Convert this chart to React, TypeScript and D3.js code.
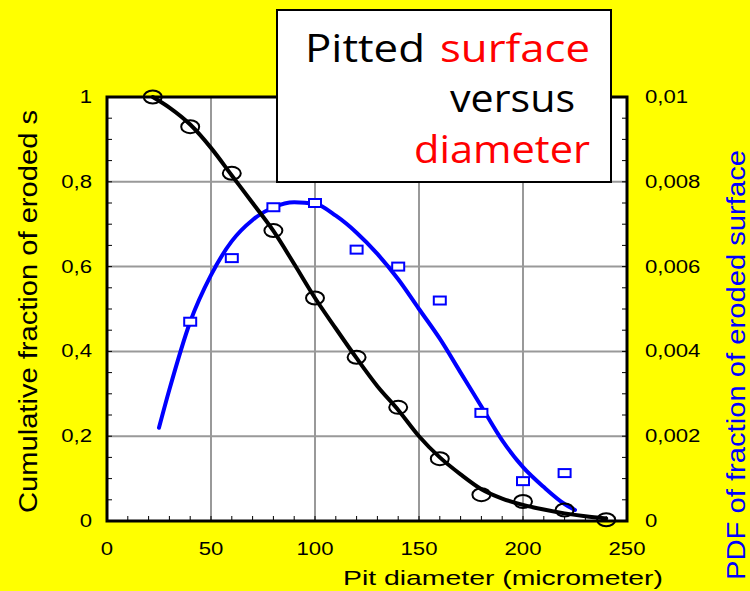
import React, { useEffect, useRef } from 'react';
import * as d3 from 'd3';

// measured points, cumulative fraction (left axis)
const cumX = [22, 40, 60, 80, 100, 120, 140, 160, 180, 200, 220, 240];
const cumY = [1.0, 0.93, 0.82, 0.685, 0.526, 0.386, 0.268, 0.147, 0.062, 0.046, 0.026, 0.003];

// fitted cumulative curve
const cumFitX = [22, 30, 40, 50, 60, 70, 80, 90, 100, 110, 120, 130, 140, 150, 160, 170, 180, 190, 200, 210, 220, 230, 240];
const cumFitY = [1.0, 0.975, 0.935, 0.88, 0.815, 0.75, 0.684, 0.606, 0.526, 0.454, 0.384, 0.318, 0.262, 0.2, 0.15, 0.11, 0.075, 0.053, 0.038, 0.027, 0.018, 0.011, 0.006];

// measured PDF points (right axis)
const pdfX = [40, 60, 80, 100, 120, 140, 160, 180, 200, 220];
const pdfY = [0.0047, 0.0062, 0.0074, 0.0075, 0.0064, 0.006, 0.0052, 0.00255, 0.00094, 0.00113];

// fitted PDF curve
const pdfFitX = [25, 30, 40, 50, 60, 70, 80, 90, 100, 110, 120, 130, 140, 150, 160, 170, 180, 190, 200, 210, 220, 225];
const pdfFitY = [0.0022, 0.0031, 0.0047, 0.0058, 0.0066, 0.0071, 0.0074, 0.00752, 0.00748, 0.0072, 0.0068, 0.0063, 0.0057, 0.005, 0.0043, 0.0035, 0.0027, 0.0019, 0.00127, 0.0008, 0.0004, 0.00026];

const xTicks = [0, 50, 100, 150, 200, 250];
const leftTicks = [0, 0.2, 0.4, 0.6, 0.8, 1];
const rightTicks = [0, 0.002, 0.004, 0.006, 0.008, 0.01];

const W = 750, H = 591;
const FONT = '"Liberation Sans", Arial, sans-serif';

const App = () => {
  const ref = useRef<SVGSVGElement | null>(null);

  useEffect(() => {
    if (!ref.current) return;
    const svg = d3.select(ref.current);
    svg.selectAll('*').remove();

    const x = d3.scaleLinear().domain([0, 250]).range([107, 627]);
    const yL = d3.scaleLinear().domain([0, 1]).range([521, 97]);
    const yR = d3.scaleLinear().domain([0, 0.01]).range([521, 97]);
    const [x0, x1] = x.range();
    const [yb, yt] = yL.range();

    svg.append('rect').attr('width', W).attr('height', H).attr('fill', '#ffff00');
    svg.append('rect').attr('x', x0).attr('y', yt).attr('width', x1 - x0).attr('height', yb - yt).attr('fill', '#fff');

    // grid
    const grid = svg.append('g').attr('stroke', '#999').attr('stroke-width', 2);
    xTicks.slice(1, -1).forEach(t => {
      grid.append('line').attr('x1', x(t)).attr('x2', x(t)).attr('y1', yt).attr('y2', yb);
    });
    leftTicks.slice(1, -1).forEach(t => {
      grid.append('line').attr('x1', x0).attr('x2', x1).attr('y1', yL(t)).attr('y2', yL(t));
    });

    // minor ticks (inside)
    const tk = svg.append('g').attr('stroke', '#000').attr('stroke-width', 1);
    d3.range(0, 251, 10).forEach(v => {
      tk.append('line').attr('x1', x(v)).attr('x2', x(v)).attr('y1', yb).attr('y2', yb - 5);
    });
    d3.range(0, 1.001, 0.05).forEach(v => {
      tk.append('line').attr('x1', x0).attr('x2', x0 + 5).attr('y1', yL(v)).attr('y2', yL(v));
    });
    d3.range(0, 0.01001, 0.0005).forEach(v => {
      tk.append('line').attr('x1', x1).attr('x2', x1 - 5).attr('y1', yR(v)).attr('y2', yR(v));
    });

    // frame
    svg.append('rect').attr('x', x0).attr('y', yt).attr('width', x1 - x0).attr('height', yb - yt)
      .attr('fill', 'none').attr('stroke', '#000').attr('stroke-width', 3);

    // curves
    const line = d3.line<[number, number]>().curve(d3.curveMonotoneX);
    svg.append('path')
      .attr('d', line(pdfFitX.map((v, i) => [x(v), yR(pdfFitY[i])])))
      .attr('fill', 'none').attr('stroke', '#0000ff').attr('stroke-width', 4).attr('stroke-linecap', 'round');
    svg.append('path')
      .attr('d', line(cumFitX.map((v, i) => [x(v), yL(cumFitY[i])])))
      .attr('fill', 'none').attr('stroke', '#000').attr('stroke-width', 4).attr('stroke-linecap', 'round');

    // markers
    svg.append('g').selectAll('rect').data(pdfX).join('rect')
      .attr('x', (d) => x(d) - 6).attr('y', (d, i) => yR(pdfY[i]) - 4)
      .attr('width', 12).attr('height', 8)
      .attr('fill', '#fff').attr('stroke', '#0000ff').attr('stroke-width', 2);
    svg.append('g').selectAll('ellipse').data(cumX).join('ellipse')
      .attr('cx', d => x(d)).attr('cy', (d, i) => yL(cumY[i]))
      .attr('rx', 9).attr('ry', 6.5)
      .attr('fill', 'none').attr('stroke', '#000').attr('stroke-width', 2);

    // tick labels
    const lab = svg.append('g').attr('font-family', FONT).attr('font-size', 18).attr('fill', '#000');
    const fmt = (v: number) => String(+v.toFixed(3)).replace('.', ',');
    xTicks.forEach(t => {
      lab.append('text').attr('transform', `translate(${x(t)},555) scale(1.23,1)`)
        .attr('text-anchor', 'middle').text(fmt(t));
    });
    leftTicks.forEach(t => {
      lab.append('text').attr('transform', `translate(92,${yL(t) + 6}) scale(1.23,1)`)
        .attr('text-anchor', 'end').text(fmt(t));
    });
    rightTicks.forEach(t => {
      lab.append('text').attr('transform', `translate(645,${yR(t) + 6}) scale(1.23,1)`)
        .attr('text-anchor', 'start').text(fmt(t));
    });

    // axis titles
    svg.append('text').attr('x', 343).attr('y', 585).attr('font-family', FONT).attr('font-size', 21)
      .attr('textLength', 320).attr('lengthAdjust', 'spacingAndGlyphs').text('Pit diameter (micrometer)');
    svg.append('text').attr('transform', 'translate(37,513) rotate(-90)')
      .attr('font-family', FONT).attr('font-size', 26)
      .attr('textLength', 403).attr('lengthAdjust', 'spacingAndGlyphs').text('Cumulative fraction of eroded s');
    svg.append('text').attr('transform', 'translate(745,580) rotate(-90)')
      .attr('font-family', FONT).attr('font-size', 26).attr('fill', '#0000ff')
      .attr('textLength', 430).attr('lengthAdjust', 'spacingAndGlyphs').text('PDF of fraction of eroded surface');

    // title box
    svg.append('rect').attr('x', 277).attr('y', 10).attr('width', 334).attr('height', 172)
      .attr('fill', '#fff').attr('stroke', '#000').attr('stroke-width', 2);
    const tf = '"Comic Sans MS", "Open Sans", sans-serif';
    const words: [string, number, number, number, string][] = [
      ['Pitted', 305, 62, 120, '#000'],
      ['surface', 440, 62, 150, '#ff0000'],
      ['versus', 450, 112, 125, '#000'],
      ['diameter', 414, 163, 176, '#ff0000'],
    ];
    words.forEach(([t, wx, wy, wl, c]) => {
      svg.append('text').attr('x', wx).attr('y', wy).attr('font-family', tf).attr('font-size', 38)
        .attr('fill', c).attr('textLength', wl).attr('lengthAdjust', 'spacingAndGlyphs').text(t);
    });
  }, []);

  return (
    <svg ref={ref} width={W} height={H}
      style={{ position: 'absolute', left: 0, top: 0, display: 'block' }} />
  );
};

export default App;
